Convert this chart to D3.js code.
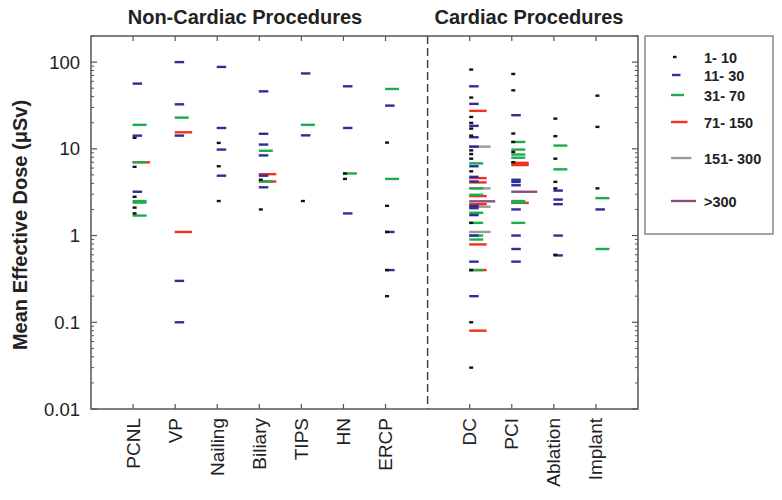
<!DOCTYPE html>
<html>
<head>
<meta charset="utf-8">
<script src="https://cdn.jsdelivr.net/npm/d3@7"></script>
<style>
  html, body { margin: 0; padding: 0; background: #fff; }
  svg { display: block; font-family: "Liberation Sans", Arial, sans-serif; }
</style>
</head>
<body>
<svg id="chart" width="782" height="500"></svg>
<script>
// ---------------- DATA ----------------
const nonCardiacCategories = ["PCNL", "VP", "Nailing", "Biliary", "TIPS", "HN", "ERCP"];
const cardiacCategories = ["DC", "PCI", "Ablation", "Implant"];
const groupTitles = ["Non-Cardiac Procedures", "Cardiac Procedures"];
const doseClasses = ["1- 10", "11- 30", "31- 70", "71- 150", "151- 300", ">300"];
const yTickValues = [0.01, 0.1, 1, 10, 100];
const yTickLabels = ["0.01", "0.1", "1", "10", "100"];
const yLabel = "Mean Effective Dose (\u03bcSv)";

// each entry: [mean effective dose (µSv), dose class index]
const pcnl = [[56.5,1],[18.9,2],[14.2,1],[13.4,0],[7.0,2],[7.0,3],[6.2,0],[3.2,1],[2.8,0],[2.5,2],[2.4,2],[2.1,0],[1.8,0],[1.7,2]];
const vp = [[100,1],[32.6,1],[22.9,2],[15.5,3],[14.2,1],[1.1,3],[0.3,1],[0.1,1]];
const nailing = [[88,1],[17.4,1],[11.7,0],[9.8,1],[6.3,0],[4.9,1],[2.5,0]];
const biliary = [[46,1],[14.9,1],[11.2,1],[9.5,2],[8.4,1],[5.1,3],[4.9,1],[4.4,0],[4.2,2],[4.2,3],[3.6,1],[2.0,0]];
const tips = [[74,1],[18.9,2],[14.3,1],[2.5,0]];
const hn = [[52.6,1],[17.4,1],[5.2,0],[5.2,2],[4.5,0],[1.8,1]];
const ercp = [[49,2],[31.5,1],[11.8,0],[4.5,2],[2.2,0],[1.1,1],[1.1,0],[0.4,1],[0.4,0],[0.2,0]];
const dc = [[82,0],[52.6,1],[39,0],[33,1],[27.4,3],[23.3,0],[19.9,0],[18.4,1],[17.1,0],[14.2,0],[13.6,1],[10.6,1],[10.6,4],[9.6,0],[8.7,0],[7.7,0],[6.8,2],[6.3,1],[5.5,0],[4.75,1],[4.6,3],[4.2,1],[4.1,3],[3.5,2],[3.5,4],[2.95,2],[2.85,3],[2.48,5],[2.3,3],[2.2,1],[2.15,4],[2.07,1],[1.83,2],[1.72,1],[1.4,0],[1.4,2],[1.1,4],[1.0,1],[1.0,2],[0.9,2],[0.79,3],[0.5,1],[0.4,0],[0.4,2],[0.4,3],[0.2,1],[0.1,0],[0.08,3],[0.03,0]];
const pci = [[73,0],[47.3,0],[24.4,1],[15,0],[12,0],[12,2],[9.8,2],[9.2,0],[8.6,2],[7.9,2],[7.0,0],[6.9,3],[6.5,3],[4.4,1],[4.15,1],[3.8,1],[3.2,5],[2.5,2],[2.4,2],[2.38,3],[2.0,1],[1.4,2],[1.0,1],[0.7,1],[0.5,1]];
const ablation = [[22.3,0],[14,0],[10.9,2],[7.7,0],[5.8,2],[4.16,0],[3.5,0],[3.3,1],[2.6,1],[2.3,1],[1.0,1],[0.6,0],[0.59,1]];
const implant = [[41,0],[17.9,0],[3.5,0],[2.7,2],[2.0,1],[0.7,2]];

const seriesByCategory = {
  PCNL: pcnl, VP: vp, Nailing: nailing, Biliary: biliary, TIPS: tips, HN: hn, ERCP: ercp,
  DC: dc, PCI: pci, Ablation: ablation, Implant: implant
};

// ---------------- STYLE ----------------
const classColors = ["#111111", "#2e2e96", "#1faa4e", "#f0321e", "#9a9a9a", "#8c4a80"];
const classLengths = [4, 9.5, 14, 17.5, 21.5, 26];
const font = "'Liberation Sans', Arial, sans-serif";
const axisColor = "#555555";

// ---------------- LAYOUT ----------------
const svg = d3.select("#chart");
const plot = { left: 91, right: 638, top: 36, bottom: 409 };

// categories laid out on an index axis, with a gap slot (divider) between groups
const allCategories = [...nonCardiacCategories, null, ...cardiacCategories];
const x = d3.scaleLinear().domain([-1, allCategories.length]).range([plot.left, plot.right]);
const y = d3.scaleLog().domain([0.01, 200]).range([plot.bottom, plot.top]);
const dividerIndex = nonCardiacCategories.length;

// ---------------- FRAME & TICKS ----------------
const g = svg.append("g");

// minor log ticks
const minorTicks = [];
for (let e = -2; e <= 2; e++) {
  for (let m = 2; m <= 9; m++) {
    const v = m * Math.pow(10, e);
    if (v <= 200) minorTicks.push(v);
  }
}

// left axis ticks (inward)
g.selectAll(".ltMaj").data(yTickValues).enter().append("line")
  .attr("x1", plot.left).attr("x2", plot.left + 6)
  .attr("y1", d => y(d)).attr("y2", d => y(d))
  .attr("stroke", axisColor).attr("stroke-width", 1.2);
g.selectAll(".ltMin").data(minorTicks).enter().append("line")
  .attr("x1", plot.left).attr("x2", plot.left + 3)
  .attr("y1", d => y(d)).attr("y2", d => y(d))
  .attr("stroke", axisColor).attr("stroke-width", 1);
// right axis ticks (inward)
g.selectAll(".rtMaj").data(yTickValues).enter().append("line")
  .attr("x1", plot.right).attr("x2", plot.right - 6)
  .attr("y1", d => y(d)).attr("y2", d => y(d))
  .attr("stroke", axisColor).attr("stroke-width", 1.2);
g.selectAll(".rtMin").data(minorTicks).enter().append("line")
  .attr("x1", plot.right).attr("x2", plot.right - 3)
  .attr("y1", d => y(d)).attr("y2", d => y(d))
  .attr("stroke", axisColor).attr("stroke-width", 1);

// category ticks top and bottom
const catIdx = allCategories.map((c, i) => i).filter(i => allCategories[i] !== null);
g.selectAll(".btTick").data(catIdx).enter().append("line")
  .attr("x1", d => x(d)).attr("x2", d => x(d))
  .attr("y1", plot.bottom).attr("y2", plot.bottom - 5)
  .attr("stroke", axisColor).attr("stroke-width", 1.2);
g.selectAll(".tpTick").data(catIdx).enter().append("line")
  .attr("x1", d => x(d)).attr("x2", d => x(d))
  .attr("y1", plot.top).attr("y2", plot.top + 5)
  .attr("stroke", axisColor).attr("stroke-width", 1.2);

// dashed divider
g.append("line")
  .attr("x1", x(dividerIndex)).attr("x2", x(dividerIndex))
  .attr("y1", plot.top).attr("y2", plot.bottom)
  .attr("stroke", "#444").attr("stroke-width", 1.5)
  .attr("stroke-dasharray", "8,4");

// frame
g.append("rect")
  .attr("x", plot.left).attr("y", plot.top)
  .attr("width", plot.right - plot.left).attr("height", plot.bottom - plot.top)
  .attr("fill", "none").attr("stroke", axisColor).attr("stroke-width", 1.5);

// ---------------- MARKS ----------------
const marks = [];
allCategories.forEach((c, i) => {
  if (c === null) return;
  seriesByCategory[c].forEach(([v, k]) => marks.push({ cat: c, idx: i, v, k }));
});
// longer marks first so shorter ones lie on top
marks.sort((a, b) => b.k - a.k);

g.selectAll(".mark").data(marks).enter().append("line")
  .attr("x1", d => x(d.idx) - 0.5)
  .attr("x2", d => x(d.idx) - 0.5 + classLengths[d.k])
  .attr("y1", d => y(d.v)).attr("y2", d => y(d.v))
  .attr("stroke", d => classColors[d.k])
  .attr("stroke-width", 2.4);

// ---------------- TEXT ----------------
// y tick labels
g.selectAll(".ylab").data(yTickValues).enter().append("text")
  .attr("x", 80).attr("y", d => y(d) + 6.5)
  .attr("text-anchor", "end")
  .attr("font-family", font).attr("font-size", 18.5).attr("fill", "#222")
  .text((d, i) => yTickLabels[i]);

// category labels
g.selectAll(".clab").data(catIdx).enter().append("text")
  .attr("transform", d => `translate(${x(d) + 6.5},418) rotate(-90)`)
  .attr("text-anchor", "end")
  .attr("font-family", font).attr("font-size", 19).attr("fill", "#222")
  .text(d => allCategories[d]);

// y axis label
g.append("text")
  .attr("transform", "translate(27,225) rotate(-90)")
  .attr("text-anchor", "middle")
  .attr("font-family", font).attr("font-size", 20).attr("font-weight", "bold").attr("fill", "#222")
  .text(yLabel);

// group titles
g.append("text")
  .attr("x", 245).attr("y", 24)
  .attr("text-anchor", "middle")
  .attr("font-family", font).attr("font-size", 20).attr("font-weight", "bold").attr("fill", "#222")
  .text(groupTitles[0]);
g.append("text")
  .attr("x", 529).attr("y", 24)
  .attr("text-anchor", "middle")
  .attr("font-family", font).attr("font-size", 20).attr("font-weight", "bold").attr("fill", "#222")
  .text(groupTitles[1]);

// ---------------- LEGEND ----------------
const legend = svg.append("g");
legend.append("rect")
  .attr("x", 645).attr("y", 36).attr("width", 128).attr("height", 198)
  .attr("fill", "#fff").attr("stroke", "#888").attr("stroke-width", 1.5);
const legendRowY = [57, 75, 95, 122, 158, 201];
doseClasses.forEach((lab, i) => {
  const x0 = i === 0 ? 673 : (i === 1 ? 672 : 671);
  legend.append("line")
    .attr("x1", x0).attr("x2", x0 + (i === 0 ? 3.5 : classLengths[i] - 1))
    .attr("y1", legendRowY[i]).attr("y2", legendRowY[i])
    .attr("stroke", classColors[i]).attr("stroke-width", 2.4);
  legend.append("text")
    .attr("x", 704).attr("y", legendRowY[i] + 5.5)
    .attr("font-family", font).attr("font-size", 14.5).attr("font-weight", "bold").attr("fill", "#222")
    .text(lab);
});
</script>
</body>
</html>
